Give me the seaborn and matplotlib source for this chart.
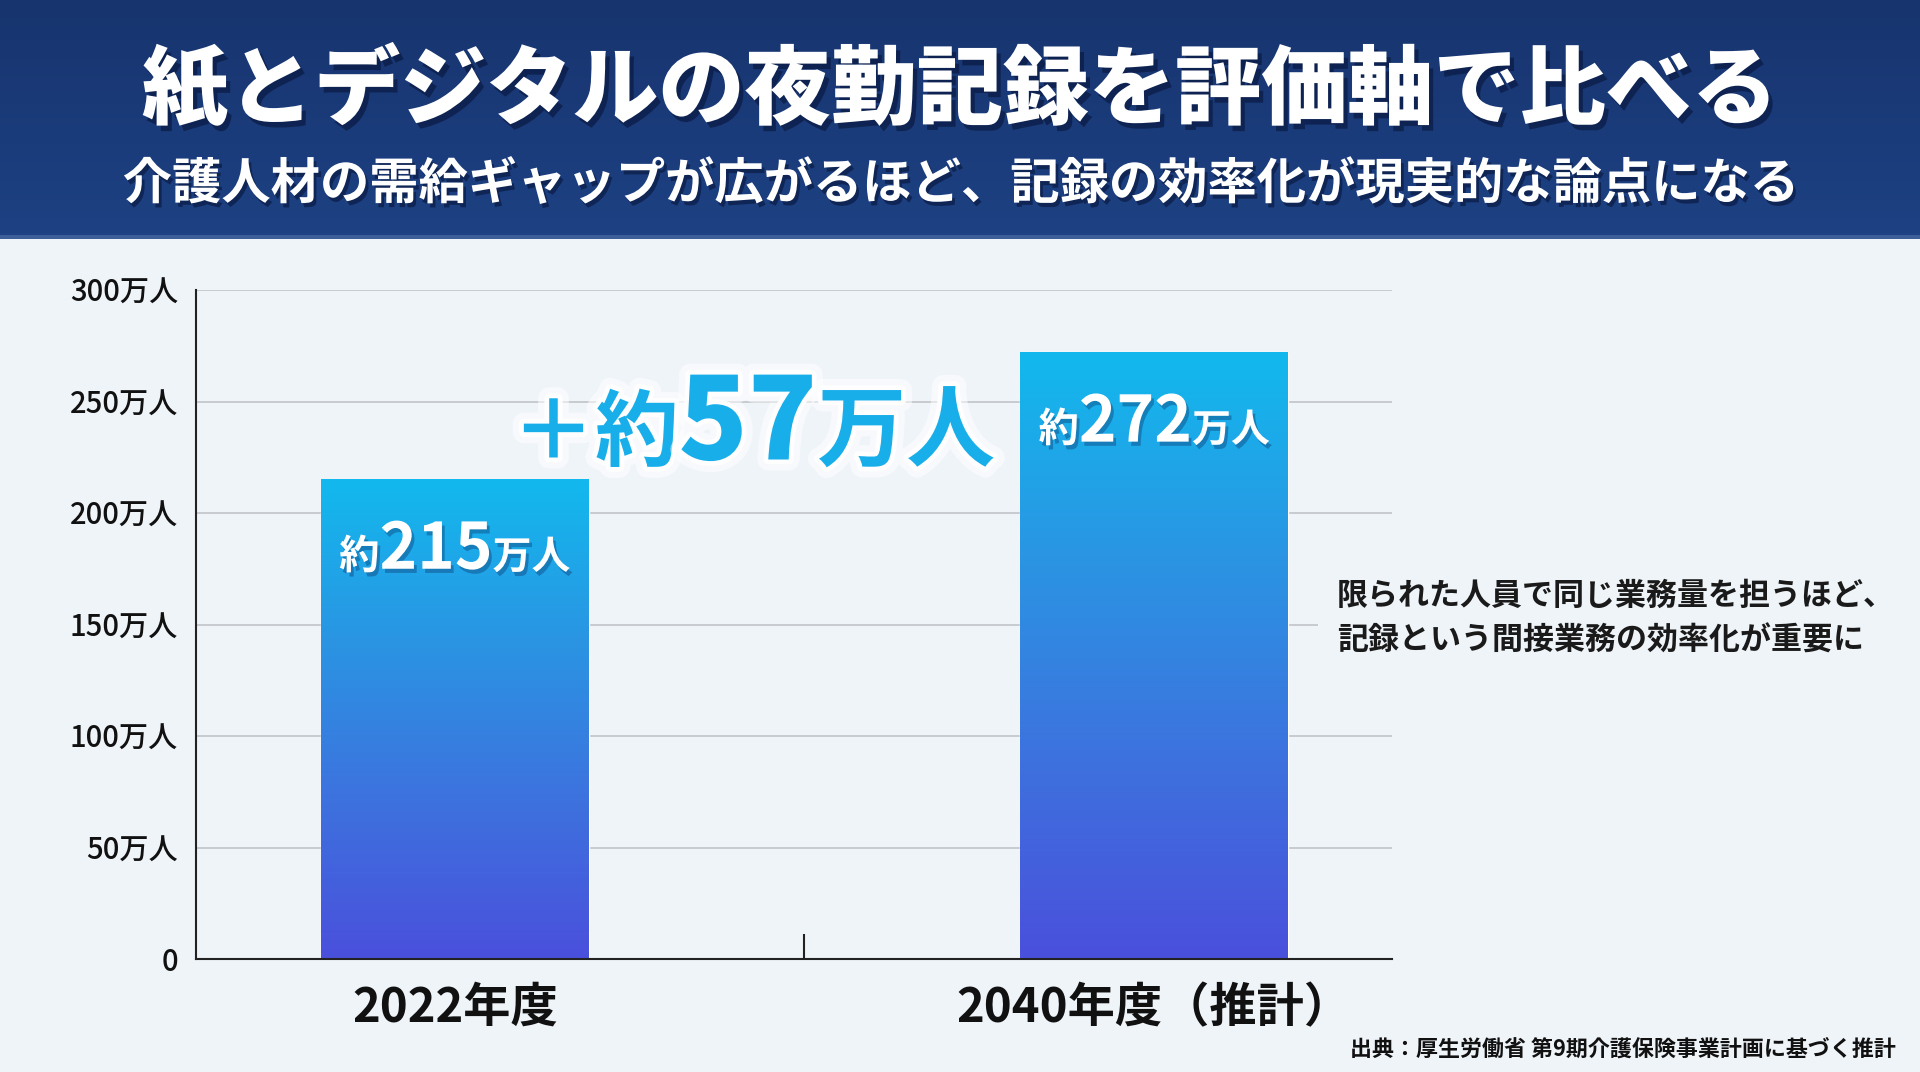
import numpy as np
import matplotlib.pyplot as plt
import seaborn as sns
from matplotlib import patheffects as pe
from matplotlib.colors import LinearSegmentedColormap
from matplotlib.patches import Rectangle
from matplotlib.transforms import IdentityTransform

# --- data ---
categories = ["2022年度", "2040年度（推計）"]
workers = [215, 272]  # 介護職員の必要数（万人）
y_ticks = [0, 50, 100, 150, 200, 250, 300]
y_tick_labels = ["0", "50万人", "100万人", "150万人", "200万人", "250万人", "300万人"]

title = "紙とデジタルの夜勤記録を評価軸で比べる"
subtitle = "介護人材の需給ギャップが広がるほど、記録の効率化が現実的な論点になる"
note = "限られた人員で同じ業務量を担うほど、\n記録という間接業務の効率化が重要に"
source = "出典：厚生労働省 第9期介護保険事業計画に基づく推計"

BG = "#eff4f9"
GAP_COLOR = "#18aeea"

sns.set_theme(style="white")
plt.rcParams['font.family'] = ['Noto Sans CJK JP', 'DejaVu Sans']

fig = plt.figure(figsize=(19.2, 10.72), dpi=100, facecolor=BG)

# header band
bg = fig.add_axes([0, 0, 1, 1], zorder=-10)
bg.axis('off')
head_cmap = LinearSegmentedColormap.from_list("head", ["#17346e", "#1d4183"])
bg.imshow(np.linspace(0, 1, 64).reshape(-1, 1), cmap=head_cmap, extent=[0, 1, 0.78, 1], aspect='auto')
bg.add_patch(Rectangle((0, 0.777), 1, 0.004, color="#3d5f99", lw=0))
bg.set_xlim(0, 1)
bg.set_ylim(0, 1)

# main chart
ax = fig.add_axes([196 / 1920, 1 - 959 / 1072, (1392 - 196) / 1920, (959 - 290) / 1072])
ax.set_facecolor('none')
sns.barplot(x=categories, y=workers, ax=ax, width=0.383, color="#2a95e3", saturation=1)

bar_cmap = LinearSegmentedColormap.from_list("bar", ["#12b9ee", "#2a95e3", "#3d72de", "#4a50dc"])
grad = np.linspace(0, 1, 256).reshape(-1, 1)
for patch in ax.patches:
    x0, w, h = patch.get_x(), patch.get_width(), patch.get_height()
    ax.imshow(grad, cmap=bar_cmap, extent=[x0, x0 + w, 0, h], aspect='auto',
              origin='upper', clip_path=patch, zorder=patch.get_zorder() + 0.1)

ax.set_xlim(-0.37, 1.34)
ax.set_ylim(0, 300)
ax.set_yticks(y_ticks, y_tick_labels)
ax.yaxis.grid(True, color="#c4c7cc", lw=1.3)
ax.set_axisbelow(True)
for s in ["top", "right"]:
    ax.spines[s].set_visible(False)
for s in ["left", "bottom"]:
    ax.spines[s].set_color("#222222")
    ax.spines[s].set_linewidth(1.5)
ax.tick_params(axis='y', length=0, pad=13, labelsize=21, labelcolor="#111111")
ax.tick_params(axis='x', length=0, pad=18, labelsize=34, labelcolor="#111111")
for lbl in ax.get_yticklabels():
    lbl.set_fontweight('medium')
for lbl in ax.get_xticklabels():
    lbl.set_fontweight('bold')
# separator tick between the two categories
ax.set_xticks([0.5], minor=True)
ax.tick_params(axis='x', which='minor', bottom=True, direction='in', length=18, width=1.5,
               color="#222222")
ax.set_xlabel("")
ax.set_ylabel("")


def mixed_text(pieces, x_px, y_px, color, effects):
    # draw pieces of different size side by side on one baseline, centred at x_px
    renderer = fig.canvas.get_renderer()
    objs = []
    for s, size, weight in pieces:
        t = fig.text(0, 0, s, transform=IdentityTransform(), fontsize=size, fontweight=weight,
                     color=color, ha='left', va='baseline', path_effects=effects)
        objs.append(t)
    widths = [t.get_window_extent(renderer).width for t in objs]
    x = x_px - sum(widths) / 2
    for t, w in zip(objs, widths):
        t.set_position((x, y_px))
        x += w


shadow = [pe.withSimplePatchShadow(offset=(2, -3), shadow_rgbFace="#0a2a60", alpha=0.35)]
for i, v in enumerate(workers):
    px, py = ax.transData.transform((i, v - 40))
    mixed_text([("約", 29, 'bold'), (str(v), 46, 'bold'), ("万人", 28, 'bold')], px, py, "white", shadow)

gap = workers[1] - workers[0]
glow = [pe.Stroke(linewidth=16, foreground="white", alpha=0.5),
        pe.Stroke(linewidth=7, foreground="white", alpha=0.9), pe.Normal()]
gx, gy = ax.transData.transform((0.427, 224))
mixed_text([("＋約", 60, 'bold'), (str(gap), 82, 'heavy'), ("万人", 64, 'bold')], gx, gy, GAP_COLOR, glow)

# titles
fig.text(0.5, 0.914, title, ha='center', va='center', fontsize=62, fontweight='heavy', color='white',
         path_effects=[pe.withSimplePatchShadow(offset=(3, -4), shadow_rgbFace="#07153a", alpha=0.6)])
fig.text(0.5, 0.828, subtitle, ha='center', va='center', fontsize=35.5, fontweight='bold', color='white',
         path_effects=[pe.withSimplePatchShadow(offset=(2, -3), shadow_rgbFace="#07153a", alpha=0.6)])

fig.text(1337 / 1920, 0.4235, note, ha='left', va='center', fontsize=22.3, fontweight='bold',
         linespacing=1.5, color="#1a1a1a",
         bbox=dict(boxstyle='square,pad=0.6', fc=BG, ec='none'))
fig.text(1896 / 1920, 0.0215, source, ha='right', va='center', fontsize=15.8, fontweight='bold', color="#111111")

fig.savefig("out.png", dpi=100, facecolor=fig.get_facecolor())
